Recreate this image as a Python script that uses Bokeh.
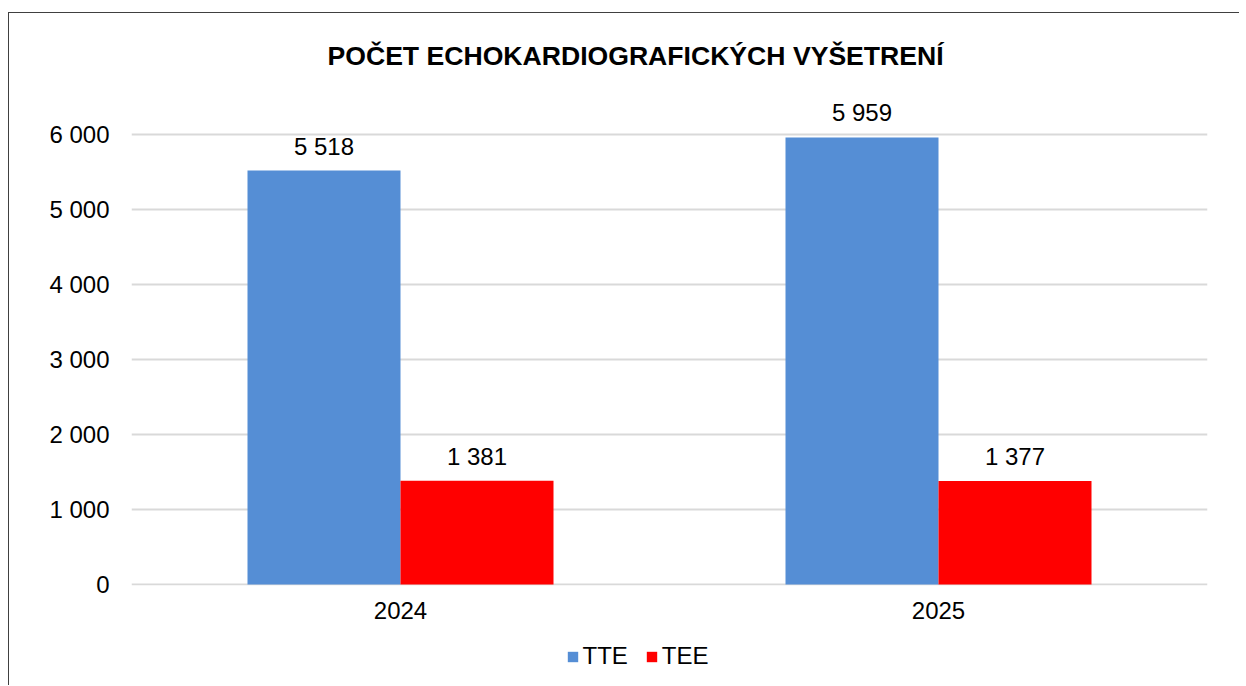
from bokeh.plotting import figure
from bokeh.layouts import column
from bokeh.models import (ColumnDataSource, FactorRange, Range1d, FixedTicker, LabelSet,
                          Legend, LegendItem)
from bokeh.core.properties import value
from bokeh.transform import dodge
from bokeh.embed import file_html
from bokeh.resources import INLINE

# ---- data ----
years = ["2024", "2025"]
tte = [5518, 5959]
tee = [1381, 1377]
series_names = ["TTE", "TEE"]
y_ticks = [0, 1000, 2000, 3000, 4000, 5000, 6000]
y_tick_labels = ["0", "1 000", "2 000", "3 000", "4 000", "5 000", "6 000"]
title_text = "POČET ECHOKARDIOGRAFICKÝCH VYŠETRENÍ"

def fmt(v):
    return f"{v:,}".replace(",", " ")

src = ColumnDataSource(data=dict(
    year=years, tte=tte, tee=tee,
    tte_lbl=[fmt(v) for v in tte], tee_lbl=[fmt(v) for v in tee],
))

FONT = "Liberation Sans"
BLUE = "#558ed5"
RED = "#ff0000"
bw = 0.2844

# ---------------- main chart ----------------
p = figure(width=1230, height=625, x_range=FactorRange(*years, range_padding=0),
           y_range=Range1d(-15, 6585), output_backend="svg", toolbar_location=None,
           min_border_left=122, min_border_right=32, min_border_top=77, min_border_bottom=53)
p.outline_line_color = None
p.background_fill_color = "white"
p.border_fill_color = "white"

r1 = p.vbar(x=dodge("year", -bw / 2, range=p.x_range), top="tte", width=bw, source=src,
            fill_color=BLUE, line_color=None)
r2 = p.vbar(x=dodge("year", bw / 2, range=p.x_range), top="tee", width=bw, source=src,
            fill_color=RED, line_color=None)

for col, off in (("tte", -bw / 2), ("tee", bw / 2)):
    p.add_layout(LabelSet(x=dodge("year", off, range=p.x_range), y=col, text=col + "_lbl",
                          source=src, text_align="center", text_baseline="alphabetic",
                          y_offset=16, text_font=value(FONT), text_font_size="24px",
                          text_color="black"))

p.yaxis.ticker = FixedTicker(ticks=y_ticks)
p.yaxis.major_label_overrides = {t: l for t, l in zip(y_ticks, y_tick_labels)}
for ax in (p.xaxis[0], p.yaxis[0]):
    ax.axis_line_color = None
    ax.major_tick_line_color = None
    ax.minor_tick_line_color = None
    ax.major_tick_out = 0
    ax.major_tick_in = 0
    ax.major_label_text_font = FONT
    ax.major_label_text_font_size = "24px"
    ax.major_label_text_color = "black"
p.yaxis.major_label_standoff = 22
p.xaxis.major_label_standoff = 16

p.xgrid.grid_line_color = None
p.ygrid.grid_line_color = "#d9d9d9"
p.ygrid.grid_line_width = 2

p.title.text = title_text
p.title.align = "left"
p.title.offset = 196
p.title.standoff = 40
p.title.text_font = FONT
p.title.text_font_size = "26.6px"
p.title.text_font_style = "bold"
p.title.text_color = "black"

# ---------------- legend strip ----------------
pl = figure(width=1230, height=47, x_range=p.x_range, y_range=Range1d(0, 1),
            output_backend="svg", toolbar_location=None, x_axis_location=None,
            y_axis_location=None, min_border_left=0, min_border_right=0,
            min_border_top=0, min_border_bottom=0)
pl.outline_line_color = None
pl.grid.visible = False
l1 = pl.vbar(x="year", top="tte", width=bw, source=src, fill_color=BLUE, line_color=None,
             visible=False)
l2 = pl.vbar(x="year", top="tee", width=bw, source=src, fill_color=RED, line_color=None,
             visible=False)

legend = Legend(items=[LegendItem(label=series_names[0], renderers=[l1]),
                       LegendItem(label=series_names[1], renderers=[l2])],
                orientation="horizontal", location=(434.5, 15),
                glyph_width=13, glyph_height=13, label_height=13, label_standoff=4,
                spacing=17, padding=0, margin=0, border_line_color=None,
                background_fill_alpha=0, inactive_fill_alpha=0,
                label_text_font=FONT, label_text_font_size="24px", label_text_color="black")
pl.add_layout(legend, "center")

layout = column(p, pl, spacing=0)
layout.styles = {"margin-left": "8px", "margin-top": "12px",
                 "border-left": "1.5px solid #404040", "border-top": "1.5px solid #404040"}

open("out.html", "w").write(file_html(layout, INLINE))
